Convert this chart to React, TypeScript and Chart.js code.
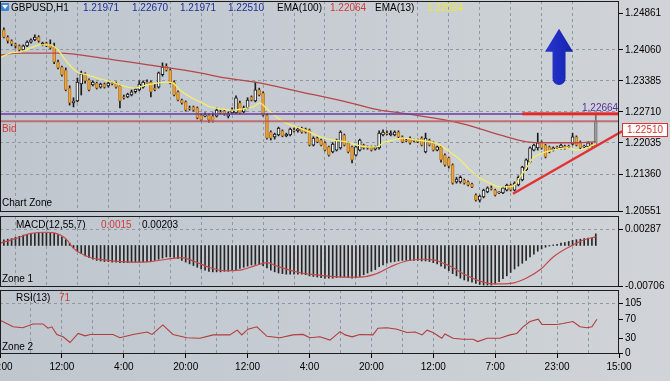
import React, { useEffect, useRef } from 'react';
import { Chart, registerables } from 'chart.js';

Chart.register(...registerables);

const FONT = '"Liberation Sans", Arial, Helvetica, sans-serif';
const GRID = '#8e98a2';

// ---------- candles (bar 1 .. 154) ----------
const OPEN = [
  1.2450, 1.2434, 1.2426, 1.2419, 1.2415, 1.2406, 1.2415, 1.2423, 1.2428, 1.2434,
  1.2417, 1.2421, 1.2417, 1.2413, 1.2380, 1.2369, 1.2362, 1.2323, 1.2291, 1.2295,
  1.2332, 1.2354, 1.2341, 1.2330, 1.2334, 1.2325, 1.2332, 1.2328, 1.2334, 1.2334,
  1.2328, 1.2304, 1.2304, 1.2308, 1.2315, 1.2319, 1.2325, 1.2336, 1.2336, 1.2323,
  1.2325, 1.2352, 1.2371, 1.2362, 1.2336, 1.2315, 1.2297, 1.2293, 1.2280, 1.2282,
  1.2280, 1.2264, 1.2262, 1.2264, 1.2262, 1.2262, 1.2271, 1.2273, 1.2262, 1.2269,
  1.2269, 1.2291, 1.2271, 1.2280, 1.2304, 1.2295, 1.2319, 1.2312, 1.2264, 1.2227,
  1.2217, 1.2221, 1.2230, 1.2219, 1.2221, 1.2232, 1.2230, 1.2236, 1.2234, 1.2232,
  1.2199, 1.2214, 1.2210, 1.2204, 1.2195, 1.2184, 1.2188, 1.2193, 1.2221, 1.2204,
  1.2195, 1.2177, 1.2188, 1.2199, 1.2195, 1.2195, 1.2190, 1.2193, 1.2221, 1.2225,
  1.2221, 1.2221, 1.2227, 1.2217, 1.2210, 1.2214, 1.2210, 1.2210, 1.2214, 1.2184,
  1.2210, 1.2204, 1.2188, 1.2195, 1.2177, 1.2171, 1.2156, 1.2119, 1.2119, 1.2123,
  1.2119, 1.2114, 1.2090, 1.2079, 1.2086, 1.2097, 1.2106, 1.2101, 1.2095, 1.2095,
  1.2101, 1.2112, 1.2101, 1.2112, 1.2123, 1.2145, 1.2162, 1.2188, 1.2193, 1.2206,
  1.2199, 1.2195, 1.2188, 1.2195, 1.2193, 1.2197, 1.2197, 1.2201, 1.2217, 1.2206,
  1.2195, 1.2195, 1.2201, 1.21971,
];
const HIGH = [
  1.2454, 1.2437, 1.2428, 1.2421, 1.2417, 1.2417, 1.2426, 1.2430, 1.2439, 1.2437,
  1.2423, 1.2423, 1.2428, 1.2421, 1.2384, 1.2371, 1.2367, 1.2328, 1.2302, 1.2345,
  1.2360, 1.2356, 1.2343, 1.2339, 1.2336, 1.2334, 1.2334, 1.2336, 1.2336, 1.2336,
  1.2330, 1.2308, 1.2312, 1.2319, 1.2323, 1.2339, 1.2339, 1.2341, 1.2339, 1.2332,
  1.2358, 1.2378, 1.2376, 1.2365, 1.2339, 1.2317, 1.2299, 1.2295, 1.2284, 1.2284,
  1.2282, 1.2267, 1.2269, 1.2267, 1.2269, 1.2280, 1.2275, 1.2275, 1.2271, 1.2280,
  1.2306, 1.2295, 1.2284, 1.2302, 1.2306, 1.2336, 1.2323, 1.2315, 1.2267, 1.2230,
  1.2225, 1.2238, 1.2232, 1.2225, 1.2236, 1.2236, 1.2238, 1.2238, 1.2236, 1.2234,
  1.2217, 1.2217, 1.2212, 1.2206, 1.2197, 1.2204, 1.2212, 1.2230, 1.2223, 1.2206,
  1.2197, 1.2197, 1.2212, 1.2201, 1.2197, 1.2197, 1.2197, 1.2230, 1.2232, 1.2230,
  1.2230, 1.2230, 1.2230, 1.2219, 1.2212, 1.2217, 1.2212, 1.2212, 1.2217, 1.2225,
  1.2212, 1.2206, 1.2197, 1.2197, 1.2180, 1.2173, 1.2158, 1.2129, 1.2132, 1.2125,
  1.2121, 1.2116, 1.2093, 1.2090, 1.2103, 1.2108, 1.2110, 1.2103, 1.2097, 1.2108,
  1.2114, 1.2114, 1.2119, 1.2132, 1.2153, 1.2169, 1.2195, 1.2201, 1.2225, 1.2208,
  1.2201, 1.2197, 1.2195, 1.2197, 1.2201, 1.2199, 1.2199, 1.2225, 1.2219, 1.2208,
  1.2199, 1.2206, 1.2204, 1.22670,
];
const LOW = [
  1.2432, 1.2421, 1.2415, 1.2410, 1.2402, 1.2404, 1.2413, 1.2421, 1.2426, 1.2423,
  1.2415, 1.2413, 1.2408, 1.2376, 1.2365, 1.2349, 1.2317, 1.2286, 1.2282, 1.2293,
  1.2308, 1.2334, 1.2317, 1.2328, 1.2321, 1.2323, 1.2323, 1.2325, 1.2330, 1.2323,
  1.2280, 1.2299, 1.2302, 1.2306, 1.2312, 1.2317, 1.2323, 1.2334, 1.2304, 1.2317,
  1.2323, 1.2349, 1.2360, 1.2332, 1.2306, 1.2295, 1.2288, 1.2273, 1.2275, 1.2273,
  1.2256, 1.2251, 1.2260, 1.2249, 1.2249, 1.2260, 1.2267, 1.2264, 1.2258, 1.2267,
  1.2267, 1.2267, 1.2269, 1.2278, 1.2295, 1.2293, 1.2306, 1.2262, 1.2212, 1.2210,
  1.2212, 1.2219, 1.2217, 1.2217, 1.2219, 1.2227, 1.2227, 1.2225, 1.2225, 1.2197,
  1.2197, 1.2204, 1.2197, 1.2186, 1.2175, 1.2182, 1.2186, 1.2190, 1.2197, 1.2182,
  1.2160, 1.2175, 1.2186, 1.2190, 1.2190, 1.2186, 1.2188, 1.2190, 1.2219, 1.2221,
  1.2219, 1.2219, 1.2214, 1.2204, 1.2206, 1.2201, 1.2206, 1.2204, 1.2197, 1.2182,
  1.2197, 1.2186, 1.2186, 1.2162, 1.2153, 1.2149, 1.2114, 1.2116, 1.2116, 1.2114,
  1.2110, 1.2106, 1.2077, 1.2075, 1.2084, 1.2095, 1.2101, 1.2088, 1.2093, 1.2093,
  1.2099, 1.2099, 1.2099, 1.2110, 1.2121, 1.2143, 1.2160, 1.2186, 1.2188, 1.2190,
  1.2171, 1.2182, 1.2186, 1.2190, 1.2190, 1.2190, 1.2193, 1.2199, 1.2197, 1.2190,
  1.2193, 1.2193, 1.2195, 1.21971,
];
const CLOSE = [
  1.2434, 1.2426, 1.2419, 1.2415, 1.2406, 1.2415, 1.2423, 1.2428, 1.2434, 1.2426,
  1.2421, 1.2415, 1.2410, 1.2380, 1.2367, 1.2352, 1.2319, 1.2291, 1.2295, 1.2336,
  1.2354, 1.2339, 1.2319, 1.2336, 1.2323, 1.2332, 1.2325, 1.2334, 1.2332, 1.2325,
  1.2295, 1.2302, 1.2310, 1.2315, 1.2321, 1.2332, 1.2336, 1.2334, 1.2315, 1.2319,
  1.2356, 1.2369, 1.2362, 1.2334, 1.2308, 1.2297, 1.2291, 1.2275, 1.2278, 1.2275,
  1.2258, 1.2254, 1.2264, 1.2254, 1.2251, 1.2275, 1.2269, 1.2267, 1.2267, 1.2275,
  1.2302, 1.2269, 1.2280, 1.2297, 1.2297, 1.2319, 1.2308, 1.2264, 1.2214, 1.2214,
  1.2223, 1.2236, 1.2219, 1.2223, 1.2234, 1.2230, 1.2234, 1.2227, 1.2227, 1.2199,
  1.2214, 1.2206, 1.2199, 1.2188, 1.2177, 1.2201, 1.2210, 1.2227, 1.2199, 1.2184,
  1.2167, 1.2195, 1.2210, 1.2193, 1.2193, 1.2188, 1.2195, 1.2225, 1.2227, 1.2223,
  1.2225, 1.2227, 1.2217, 1.2206, 1.2208, 1.2204, 1.2208, 1.2206, 1.2199, 1.2214,
  1.2199, 1.2188, 1.2195, 1.2167, 1.2156, 1.2153, 1.2116, 1.2125, 1.2129, 1.2116,
  1.2112, 1.2108, 1.2079, 1.2088, 1.2101, 1.2106, 1.2103, 1.2090, 1.2097, 1.2106,
  1.2112, 1.2101, 1.2116, 1.2129, 1.2151, 1.2167, 1.2193, 1.2199, 1.2204, 1.2193,
  1.2173, 1.2184, 1.2193, 1.2193, 1.2199, 1.2193, 1.2195, 1.2217, 1.2199, 1.2193,
  1.2197, 1.2204, 1.2197, 1.22510,
];

// ---------- moving averages (bar position, price) ----------
const EMA13_X = [0, 2.6, 5.2, 7.8, 10.3, 12.9, 15, 17.3, 19.9, 22.5, 25.8, 29.2, 31, 34.4, 38, 40.6, 43.2, 44.7, 46.5, 49.1, 51.7, 54.3, 56.9, 60.2, 62.8, 65.4, 67.2, 68.5, 70.3, 72.4, 75, 77.5, 80.1, 82.7, 86.1, 89.7, 92.3, 94.9, 97.4, 99, 101.6, 104.2, 107.8, 111.1, 113.7, 116.3, 118.9, 121.5, 124.1, 126.6, 129.2, 131.8, 133.1, 134.4, 136.2, 137.8, 140.3, 142.9, 146.5, 149.1, 151.7, 154];
const EMA13_Y = [1.2389, 1.2399, 1.2402, 1.2410, 1.2417, 1.2417, 1.2406, 1.2380, 1.2358, 1.2352, 1.2343, 1.2336, 1.2330, 1.2323, 1.2330, 1.2334, 1.2336, 1.2334, 1.2319, 1.2304, 1.2293, 1.2282, 1.2278, 1.2275, 1.2278, 1.2282, 1.2291, 1.2282, 1.2269, 1.2254, 1.2243, 1.2236, 1.2227, 1.2217, 1.2210, 1.2206, 1.2199, 1.2195, 1.2195, 1.2204, 1.2210, 1.2214, 1.2210, 1.2206, 1.2199, 1.2184, 1.2167, 1.2145, 1.2127, 1.2116, 1.2108, 1.2108, 1.2112, 1.2129, 1.2151, 1.2171, 1.2182, 1.2188, 1.2193, 1.2188, 1.2193, 1.2202];
const EMA100_X = [0, 5.2, 12.9, 15.5, 25.8, 38.8, 51.7, 56.9, 65.9, 77.5, 90.5, 98.2, 103.4, 111.9, 120.7, 129.2, 136.2, 142.2, 149.1, 154];
const EMA100_Y = [1.2395, 1.2399, 1.2399, 1.2399, 1.2389, 1.2373, 1.2356, 1.2347, 1.2336, 1.2315, 1.2291, 1.2275, 1.2269, 1.2258, 1.2243, 1.2221, 1.2206, 1.2204, 1.2204, 1.22064];

// ---------- MACD(12,55,7) ----------
const MACD_HIST = [
  0.0010, 0.0011, 0.0012, 0.0014, 0.0016, 0.0018, 0.0019, 0.0020, 0.0021, 0.0022,
  0.0022, 0.0022, 0.0022, 0.0021, 0.0019, 0.0015, 0.0010, 0.0004, -0.0004, -0.0010,
  -0.0014, -0.0018, -0.0021, -0.0024, -0.0026, -0.0027, -0.0028, -0.0028, -0.0029, -0.0029,
  -0.0030, -0.0030, -0.0030, -0.0029, -0.0029, -0.0029, -0.0028, -0.0028, -0.0027, -0.0026,
  -0.0024, -0.0022, -0.0020, -0.0020, -0.0021, -0.0023, -0.0026, -0.0029, -0.0032, -0.0035,
  -0.0038, -0.0041, -0.0043, -0.0045, -0.0046, -0.0046, -0.0046, -0.0045, -0.0045, -0.0044,
  -0.0042, -0.0040, -0.0038, -0.0036, -0.0034, -0.0033, -0.0033, -0.0035, -0.0039, -0.0043,
  -0.0046, -0.0048, -0.0049, -0.0050, -0.0050, -0.0050, -0.0050, -0.0050, -0.0051, -0.0053,
  -0.0054, -0.0055, -0.0056, -0.0057, -0.0057, -0.0057, -0.0056, -0.0055, -0.0055, -0.0056,
  -0.0057, -0.0056, -0.0054, -0.0051, -0.0048, -0.0045, -0.0042, -0.0037, -0.0034, -0.0031,
  -0.0029, -0.0028, -0.0027, -0.0026, -0.0026, -0.0026, -0.0026, -0.0026, -0.0027, -0.0027,
  -0.0028, -0.0030, -0.0032, -0.0036, -0.0040, -0.0044, -0.0049, -0.0053, -0.0057, -0.0060,
  -0.0062, -0.0064, -0.0066, -0.0068, -0.0069, -0.0069, -0.0069, -0.0067, -0.0063, -0.0058,
  -0.0053, -0.0047, -0.0041, -0.0036, -0.0031, -0.0026, -0.0020, -0.0015, -0.0010, -0.0006,
  -0.0003, -0.0001, 0.0001, 0.0002, 0.0004, 0.0005, 0.0007, 0.0009, 0.0010, 0.0011,
  0.0012, 0.0013, 0.0013, 0.00203,
];
const SIGNAL_X = [0, 4, 8, 12, 14, 17, 19, 23, 28, 34, 39, 43, 47, 50, 54, 58, 62, 66, 69, 72, 78, 83, 88, 93, 97, 101, 105, 109, 112, 116, 120, 124, 128, 132, 136, 140, 143, 147, 151, 154];
const SIGNAL_Y = [0.0004, 0.0012, 0.0021, 0.0023, 0.0022, 0.0012, -0.0005, -0.0020, -0.0026, -0.0029, -0.0028, -0.0024, -0.0021, -0.0027, -0.0038, -0.0044, -0.0043, -0.0035, -0.0030, -0.0037, -0.0048, -0.0052, -0.0055, -0.0055, -0.0050, -0.0037, -0.0027, -0.0024, -0.0025, -0.0035, -0.0050, -0.0062, -0.0067, -0.0066, -0.0057, -0.0040, -0.0020, -0.0003, 0.0010, 0.0015];

// ---------- RSI(13) ----------
const RSI_X = [0, 3.4, 5.9, 8.5, 11.1, 12.4, 13.4, 14.7, 16.3, 18.1, 20.2, 22, 23.3, 29.2, 31, 34.4, 38, 39.3, 42.1, 44.7, 48.3, 51.7, 55.1, 59.4, 61.3, 62.5, 64.1, 66.4, 69, 72.4, 75.7, 78.3, 80.1, 82.7, 85.3, 87.9, 89.2, 91, 93, 96.4, 97.7, 100, 102.6, 105.2, 107.3, 109.1, 110.4, 111.9, 114.2, 115, 117.1, 119.7, 122.3, 123.5, 125.9, 129.2, 131.8, 133.6, 135.2, 137, 139.1, 140.1, 144, 145.5, 148.1, 149.9, 151.7, 153, 154.3];
const RSI_Y = [69, 55, 53, 61, 61, 52, 55, 39, 34, 22, 41, 36, 39, 39, 32, 39, 44, 39, 59, 39, 32, 31, 38, 38, 48, 38, 50, 55, 35, 32, 38, 39, 32, 34, 27, 45, 38, 34, 39, 38, 52, 53, 50, 43, 44, 38, 48, 43, 31, 40, 31, 29, 29, 24, 31, 31, 38, 41, 55, 66, 71, 60, 60, 62, 66, 55, 53, 55, 71];

// ---------- levels, drawn objects, ticks ----------
const BID = 1.2251;
const ASK_LEVEL = 1.22664;
const RESIST_X = [135, 160];
const RESIST_Y = 1.2267;
const TREND_X = [132.6, 160.8];
const TREND_Y = [1.2093, 1.2229];
const ARROW = { x: 144.5, tip: 1.2452, neck: 1.2402, tail: 1.2330 };

const PRICE_TICKS = [1.20551, 1.2136, 1.22035, 1.2271, 1.23385, 1.2406, 1.24861];
const PRICE_GRID = [1.2136, 1.22035, 1.2271, 1.23385, 1.2406];
const MACD_TICKS = [-0.00706, 0.00287];
const MACD_GRID = [0.00287];
const RSI_TICKS = [0, 30, 70, 105];
const RSI_GRID = [105];
const TIME_LABELS = ['20:00', '12:00', '4:00', '20:00', '12:00', '4:00', '20:00', '12:00', '7:00', '23:00', '15:00'];
const BARS_PER_LABEL = 16;
const BARS_PER_GRID = 8;
const X_MAX = 160;

const pts = (xs: number[], ys: number[]) => xs.map((x, k) => ({ x, y: ys[k] }));
const BAR_POS = OPEN.map((_, k) => k + 1);

function xAxis(showLabels: boolean) {
  const steps: number[] = [];
  for (let v = 0; v <= X_MAX; v += BARS_PER_GRID) steps.push(v);
  return {
    type: 'linear',
    min: 0,
    max: X_MAX,
    offset: false,
    afterBuildTicks: (s: any) => {
      s.ticks = steps.map((v) => ({ value: v }));
    },
    afterFit: (s: any) => {
      s.height = showLabels ? 27 : 0;
    },
    ticks: {
      display: showLabels,
      autoSkip: false,
      maxRotation: 0,
      minRotation: 0,
      padding: 3,
      color: '#000',
      font: { family: FONT, size: 10 },
      callback: (v: number) => (v % BARS_PER_LABEL === 0 ? TIME_LABELS[v / BARS_PER_LABEL] : ''),
    },
    grid: {
      drawOnChartArea: true,
      drawTicks: showLabels,
      tickLength: 4,
      lineWidth: 1,
      color: (c: any) => (c.tick && c.tick.value > 0 && c.tick.value < X_MAX ? GRID : 'rgba(0,0,0,0)'),
      tickColor: (c: any) => (c.tick && c.tick.value % BARS_PER_LABEL === 0 ? '#000' : 'rgba(0,0,0,0)'),
    },
    border: { display: false, dash: [3, 3] },
  };
}

function yAxis(min: number, max: number, ticks: number[], grid: number[], fmt: (v: number) => string) {
  return {
    type: 'linear',
    position: 'right',
    min,
    max,
    afterBuildTicks: (s: any) => {
      s.ticks = ticks.map((v) => ({ value: v }));
    },
    afterFit: (s: any) => {
      s.width = 51;
    },
    ticks: { autoSkip: false, padding: 2, color: '#000', font: { family: FONT, size: 10 }, callback: fmt },
    grid: {
      drawOnChartArea: true,
      drawTicks: true,
      tickLength: 4,
      tickColor: '#000',
      color: (c: any) => (c.tick && grid.includes(c.tick.value) ? GRID : 'rgba(0,0,0,0)'),
    },
    border: { display: false, dash: [3, 3] },
  };
}

const paneBorder = {
  id: 'paneBorder',
  afterDraw(chart: any) {
    const { ctx, chartArea: a } = chart;
    ctx.save();
    ctx.strokeStyle = '#1d1d1d';
    ctx.lineWidth = 1;
    ctx.strokeRect(a.left + 0.5, a.top + 0.5, a.right - a.left - 1, a.bottom - a.top - 1);
    ctx.restore();
  },
};

const objectsPlugin = {
  id: 'objects',
  afterDatasetsDraw(chart: any) {
    const { ctx } = chart;
    const xs = chart.scales.x;
    const ys = chart.scales.y;
    ctx.save();
    const rx0 = xs.getPixelForValue(RESIST_X[0]);
    const rx1 = xs.getPixelForValue(RESIST_X[1]);
    const ry = ys.getPixelForValue(RESIST_Y);
    ctx.fillStyle = '#e32a2a';
    ctx.fillRect(rx0, ry - 1.5, rx1 - rx0, 3);
    const cx = xs.getPixelForValue(ARROW.x);
    const tip = ys.getPixelForValue(ARROW.tip);
    const neck = ys.getPixelForValue(ARROW.neck);
    const tail = ys.getPixelForValue(ARROW.tail);
    const hw = 14;
    const sw = 6.5;
    const g = ctx.createLinearGradient(cx - hw, 0, cx + hw, 0);
    g.addColorStop(0, '#2a38c8');
    g.addColorStop(0.5, '#1d2cc0');
    g.addColorStop(1, '#1424a8');
    ctx.fillStyle = g;
    ctx.beginPath();
    ctx.moveTo(cx, tip);
    ctx.lineTo(cx + hw, neck);
    ctx.lineTo(cx + sw, neck);
    ctx.lineTo(cx + sw, tail - sw);
    ctx.arc(cx, tail - sw, sw, 0, Math.PI, false);
    ctx.lineTo(cx - sw, neck);
    ctx.lineTo(cx - hw, neck);
    ctx.closePath();
    ctx.fill();
    ctx.restore();
  },
};

const baseOptions = (padTop: number, padBottom: number) => ({
  animation: false,
  responsive: false,
  devicePixelRatio: 1,
  events: [],
  layout: { padding: { left: 30, right: 0, top: padTop, bottom: padBottom } },
  plugins: { legend: { display: false }, tooltip: { enabled: false } },
});

const Txt = ({ x, y, c = '#000', s = 10, children }: any) => (
  <span
    style={{
      position: 'absolute',
      left: x,
      top: y - 6,
      fontSize: s,
      lineHeight: '12px',
      color: c,
      whiteSpace: 'nowrap',
      fontFamily: FONT,
    }}
  >
    {children}
  </span>
);

export default function App() {
  const mainRef = useRef<HTMLCanvasElement>(null);
  const macdRef = useRef<HTMLCanvasElement>(null);
  const rsiRef = useRef<HTMLCanvasElement>(null);

  useEffect(() => {
    const last = OPEN.length - 1;
    const isUp = (k: number) => CLOSE[k] >= OPEN[k];

    const main = new Chart(mainRef.current as HTMLCanvasElement, {
      type: 'bar',
      data: {
        datasets: [
          {
            type: 'bar',
            data: BAR_POS.map((x, k) => ({ x, y: [LOW[k], HIGH[k]] })),
            backgroundColor: BAR_POS.map((_, k) => (k === last ? '#6d6d6d' : '#1b1b1b')),
            barThickness: 1,
            grouped: false,
            order: 20,
          } as any,
          {
            type: 'bar',
            data: BAR_POS.map((x, k) => ({ x, y: [Math.min(OPEN[k], CLOSE[k]), Math.max(OPEN[k], CLOSE[k])] })),
            backgroundColor: BAR_POS.map((_, k) => (k === last ? '#9a9a9a' : isUp(k) ? '#f6f6f6' : '#eaa443')),
            borderColor: BAR_POS.map((_, k) => (k === last ? '#7a7a7a' : isUp(k) ? '#161616' : '#b87a22')),
            borderWidth: 1,
            borderSkipped: false,
            barThickness: 3,
            grouped: false,
            order: 19,
          } as any,
          {
            type: 'line',
            data: pts(EMA100_X, EMA100_Y),
            borderColor: '#b5474b',
            borderWidth: 1.3,
            pointRadius: 0,
            cubicInterpolationMode: 'monotone',
            order: 10,
          } as any,
          {
            type: 'line',
            data: pts(EMA13_X, EMA13_Y),
            borderColor: '#f2ee6e',
            borderWidth: 1.3,
            pointRadius: 0,
            cubicInterpolationMode: 'monotone',
            order: 9,
          } as any,
          {
            type: 'line',
            data: [{ x: 0, y: ASK_LEVEL }, { x: X_MAX, y: ASK_LEVEL }],
            borderColor: '#6a3aa3',
            borderWidth: 1.5,
            pointRadius: 0,
            order: 8,
          } as any,
          {
            type: 'line',
            data: [{ x: 0, y: BID }, { x: X_MAX, y: BID }],
            borderColor: 'rgba(190,92,96,0.85)',
            borderWidth: 2,
            pointRadius: 0,
            order: 7,
          } as any,
          {
            type: 'line',
            data: pts(TREND_X, TREND_Y),
            borderColor: '#e33232',
            borderWidth: 2.5,
            pointRadius: 0,
            clip: false,
            order: 5,
          } as any,
        ],
      },
      options: {
        ...baseOptions(11, 10),
        scales: {
          x: xAxis(false),
          y: yAxis(1.20533, 1.25126, PRICE_TICKS, PRICE_GRID, (v: number) => v.toFixed(5)),
        },
      } as any,
      plugins: [paneBorder, objectsPlugin],
    });

    const macd = new Chart(macdRef.current as HTMLCanvasElement, {
      type: 'bar',
      data: {
        datasets: [
          {
            type: 'bar',
            data: BAR_POS.map((x, k) => ({ x, y: MACD_HIST[k] })),
            backgroundColor: '#262626',
            barThickness: 1,
            grouped: false,
            order: 2,
          } as any,
          {
            type: 'line',
            data: pts(SIGNAL_X, SIGNAL_Y),
            borderColor: '#c44848',
            borderWidth: 1.2,
            pointRadius: 0,
            cubicInterpolationMode: 'monotone',
            order: 1,
          } as any,
        ],
      },
      options: {
        ...baseOptions(10, 11),
        scales: {
          x: xAxis(false),
          y: yAxis(-0.007234, 0.005135, MACD_TICKS, MACD_GRID, (v: number) => v.toFixed(5)),
        },
      } as any,
      plugins: [paneBorder],
    });

    const rsi = new Chart(rsiRef.current as HTMLCanvasElement, {
      type: 'line',
      data: {
        datasets: [
          {
            data: pts(RSI_X, RSI_Y),
            borderColor: '#b23c3c',
            borderWidth: 1.1,
            pointRadius: 0,
            tension: 0,
          },
        ],
      },
      options: {
        ...baseOptions(9, 0),
        scales: {
          x: xAxis(true),
          y: yAxis(-2.1, 132.3, RSI_TICKS, RSI_GRID, (v: number) => String(v)),
        },
      } as any,
      plugins: [paneBorder],
    });

    return () => {
      main.destroy();
      macd.destroy();
      rsi.destroy();
    };
  }, []);

  return (
    <div
      style={{
        position: 'absolute',
        left: 0,
        top: 0,
        width: 670,
        height: 381,
        overflow: 'hidden',
        background: 'linear-gradient(90deg, #bfc6ce 0%, #c6ccd2 45%, #d0d4d8 100%)',
        fontFamily: FONT,
      }}
    >
      <canvas ref={mainRef} width={700} height={232} style={{ position: 'absolute', left: -30, top: -10 }} />
      <canvas ref={macdRef} width={700} height={92} style={{ position: 'absolute', left: -30, top: 206 }} />
      <canvas ref={rsiRef} width={700} height={100} style={{ position: 'absolute', left: -30, top: 281 }} />

      <div style={{ position: 'absolute', left: 1, top: 3, width: 8, height: 8, background: '#3f86d8', borderRadius: 1 }}>
        <div
          style={{
            position: 'absolute',
            left: 1,
            top: 2,
            width: 0,
            height: 0,
            borderLeft: '3px solid transparent',
            borderRight: '3px solid transparent',
            borderTop: '4px solid #ffffff',
          }}
        />
      </div>
      <Txt x={11} y={7.5}>GBPUSD,H1</Txt>
      <Txt x={83} y={7.5} c="#1d2f9e">1.21971</Txt>
      <Txt x={132} y={7.5} c="#1d2f9e">1.22670</Txt>
      <Txt x={180} y={7.5} c="#1d2f9e">1.21971</Txt>
      <Txt x={228} y={7.5} c="#1d2f9e">1.22510</Txt>
      <Txt x={277} y={7.5}>EMA(100)</Txt>
      <Txt x={330} y={7.5} c="#d23a3a">1.22064</Txt>
      <Txt x={375} y={7.5}>EMA(13)</Txt>
      <Txt x={427} y={7.5} c="#eee832">1.22024</Txt>

      <Txt x={582} y={108} c="#5b2f96">1.22664</Txt>
      <Txt x={2} y={129} c="#d03a3a">Bid</Txt>
      <Txt x={2} y={203}>Chart Zone</Txt>

      <Txt x={16} y={225}>MACD(12,55,7)</Txt>
      <Txt x={101} y={225} c="#d03a3a">0.0015</Txt>
      <Txt x={142} y={225}>0.00203</Txt>
      <Txt x={2} y={279}>Zone 1</Txt>

      <Txt x={16} y={298}>RSI(13)</Txt>
      <Txt x={59} y={298} c="#d03a3a">71</Txt>
      <Txt x={2} y={347}>Zone 2</Txt>

      <div
        style={{
          position: 'absolute',
          left: 622,
          top: 123,
          width: 44,
          height: 12,
          background: '#ffffff',
          border: '1px solid #d83434',
          color: '#d83434',
          fontSize: 10,
          lineHeight: '12px',
          textAlign: 'center',
          fontFamily: FONT,
        }}
      >
        1.22510
      </div>
    </div>
  );
}
